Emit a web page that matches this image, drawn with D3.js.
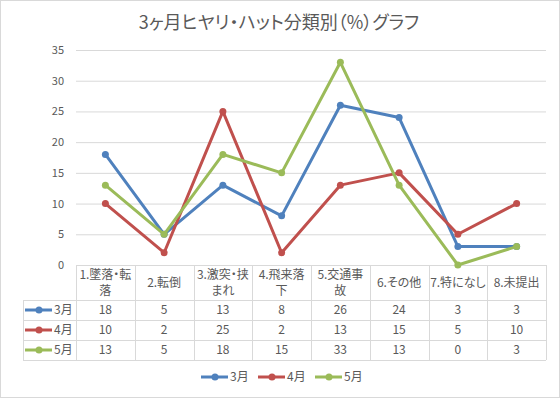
<!DOCTYPE html>
<html>
<head>
<meta charset="utf-8">
<script src="https://cdn.jsdelivr.net/npm/d3@7"></script>
<style>
  body { margin: 0; background: #fff; }
  svg text { font-family: "Noto Sans CJK JP", "Noto Sans", sans-serif; fill: #595959; font-feature-settings: "palt" 1; }
</style>
</head>
<body>
<div id="chart"></div>
<script>
(function(){
  'use strict';

  var categories = ['1.墜落・転落', '2.転倒', '3.激突・挟まれ', '4.飛来落下', '5.交通事故', '6.その他', '7.特になし', '8.未提出'],
      seriesNames = ['3月', '4月', '5月'],
      march = [18, 5, 13, 8, 26, 24, 3, 3],
      april = [10, 2, 25, 2, 13, 15, 5, 10],
      may = [13, 5, 18, 15, 33, 13, 0, 3],
      yTicks = [0, 5, 10, 15, 20, 25, 30, 35],
      title = '3ヶ月ヒヤリ・ハット分類別（%）グラフ';

  var colors = ['#4f81bd', '#c0504d', '#9bbb59'],
      series = [march, april, may],
      w = 560,
      h = 398,
      grid = '#d9d9d9';

  var svg = d3.select('#chart').append('svg')
    .attr('width', w)
    .attr('height', h);

  svg.append('rect')
    .attr('x', 0.5).attr('y', 0.5)
    .attr('width', w - 1).attr('height', h - 1)
    .style('fill', '#fff')
    .style('stroke', grid);

  svg.append('text')
    .attr('x', 279)
    .attr('y', 23)
    .attr('dy', '0.35em')
    .attr('text-anchor', 'middle')
    .style('font-size', '18px')
    .text(title);

  var x = d3.scaleBand()
      .domain(categories)
      .range([76, 546]),

      y = d3.scaleLinear()
      .domain([0, 35])
      .range([265, 50]);

  // gridlines + y labels
  var yAxis = d3.axisLeft(y)
    .tickValues(yTicks)
    .tickSize(-(546 - 76))
    .tickPadding(12);

  var gy = svg.append('g')
    .attr('transform', 'translate(76,0)')
    .call(yAxis);
  gy.select('.domain').remove();
  gy.selectAll('line').style('stroke', grid);
  gy.selectAll('text')
    .style('font-size', '11px')
    .style('font-family', '"Noto Sans CJK JP", sans-serif')
    .style('fill', '#595959');

  // data table
  var rowTop = 300, rowH = 20, left = 23,
      table = svg.append('g').style('stroke', grid).style('fill', 'none');

  table.append('line').attr('x1', 76).attr('x2', 546).attr('y1', 265.5).attr('y2', 265.5);
  d3.range(4).forEach(function(i) {
    var yy = rowTop + i * rowH + 0.5;
    table.append('line').attr('x1', left).attr('x2', 546).attr('y1', yy).attr('y2', yy);
  });
  table.append('line').attr('x1', left + 0.5).attr('x2', left + 0.5).attr('y1', rowTop).attr('y2', rowTop + 3 * rowH);
  categories.forEach(function(c) {
    var xx = Math.round(x(c)) + 0.5;
    table.append('line').attr('x1', xx).attr('x2', xx).attr('y1', 265).attr('y2', rowTop + 3 * rowH);
  });
  table.append('line').attr('x1', 546.5).attr('x2', 546.5).attr('y1', 265).attr('y2', rowTop + 3 * rowH);

  // category header, wrapped to the cell width
  var maxW = x.bandwidth() - 2;
  categories.forEach(function(c) {
    var t = svg.append('text')
      .attr('text-anchor', 'middle')
      .style('font-size', '12px');
    var lines = [], cur = '';
    c.split('').forEach(function(ch) {
      t.text(cur + ch);
      if (cur && t.node().getComputedTextLength() > maxW) {
        lines.push(cur);
        cur = ch;
      } else {
        cur += ch;
      }
    });
    lines.push(cur);
    t.text(null);
    var cy = 282.5 - (lines.length - 1) * 8;
    lines.forEach(function(l, i) {
      t.append('tspan')
        .attr('x', x(c) + x.bandwidth() / 2)
        .attr('y', cy + i * 16)
        .attr('dy', '0.35em')
        .text(l);
    });
  });

  // value rows
  series.forEach(function(vals, s) {
    var cy = rowTop + s * rowH + rowH / 2;
    svg.append('g').selectAll('text')
      .data(vals)
      .enter()
      .append('text')
      .attr('x', function(d, i) { return x(categories[i]) + x.bandwidth() / 2; })
      .attr('y', cy)
      .attr('dy', '0.35em')
      .attr('text-anchor', 'middle')
      .style('font-size', '12px')
      .text(function(d) { return d; });

    var key = svg.append('g').attr('transform', 'translate(0,' + cy + ')');
    key.append('line').attr('x1', 25).attr('x2', 52)
      .style('stroke', colors[s]).style('stroke-width', 3);
    key.append('circle').attr('cx', 39).attr('r', 3.5).style('fill', colors[s]);
    key.append('text').attr('x', 54).attr('dy', '0.35em')
      .style('font-size', '12px').text(seriesNames[s]);
  });

  // lines
  var line = d3.line()
    .x(function(d, i) { return x(categories[i]) + x.bandwidth() / 2; })
    .y(function(d) { return y(d); });

  series.forEach(function(vals, s) {
    var g = svg.append('g');
    g.append('path')
      .datum(vals)
      .attr('d', line)
      .style('fill', 'none')
      .style('stroke', colors[s])
      .style('stroke-width', 3)
      .style('stroke-linejoin', 'round');
    g.selectAll('circle')
      .data(vals)
      .enter()
      .append('circle')
      .attr('cx', function(d, i) { return x(categories[i]) + x.bandwidth() / 2; })
      .attr('cy', function(d) { return y(d); })
      .attr('r', 3.5)
      .style('fill', colors[s]);
  });

  // legend
  var legX = [201, 258, 315];
  seriesNames.forEach(function(n, s) {
    var lg = svg.append('g').attr('transform', 'translate(' + legX[s] + ',377)');
    lg.append('line').attr('x1', 0).attr('x2', 27)
      .style('stroke', colors[s]).style('stroke-width', 3);
    lg.append('circle').attr('cx', 14).attr('r', 3.5).style('fill', colors[s]);
    lg.append('text').attr('x', 29).attr('dy', '0.35em')
      .style('font-size', '12px').text(n);
  });

}());
</script>
</body>
</html>
